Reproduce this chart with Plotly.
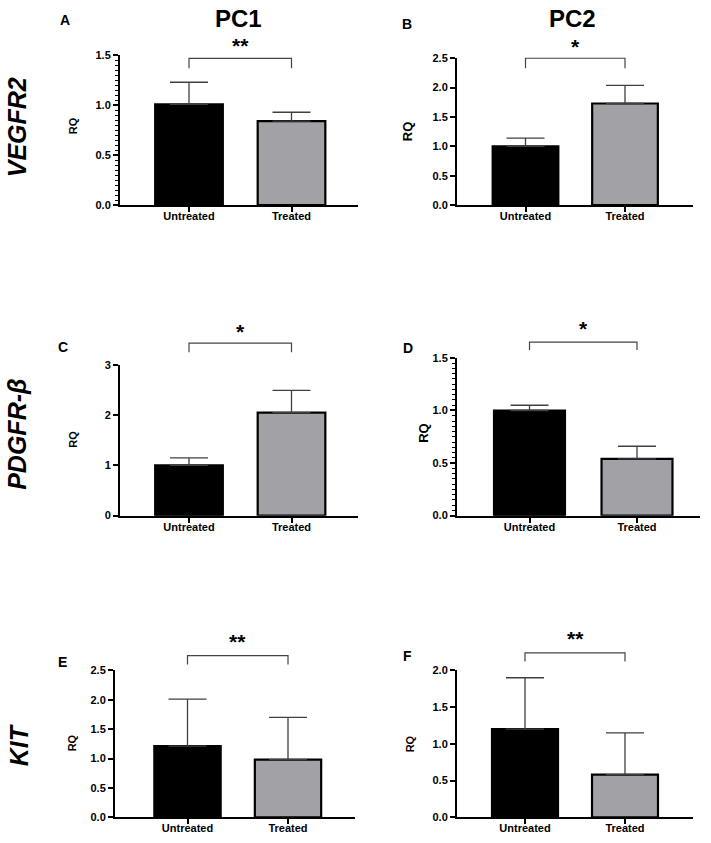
import plotly.graph_objects as go

W, H = 711, 843

categories = ["Untreated", "Treated"]
panels = ["A", "B", "C", "D", "E", "F"]
columns = ["PC1", "PC2"]
genes = ["VEGFR2", "PDGFR-β", "KIT"]

rq_mean = {
    "A": [1.01, 0.84],
    "B": [1.00, 1.73],
    "C": [1.00, 2.05],
    "D": [1.00, 0.54],
    "E": [1.21, 0.98],
    "F": [1.20, 0.58],
}
rq_err = {
    "A": [0.22, 0.09],
    "B": [0.14, 0.31],
    "C": [0.15, 0.44],
    "D": [0.05, 0.12],
    "E": [0.80, 0.72],
    "F": [0.70, 0.57],
}
significance = {"A": "**", "B": "*", "C": "*", "D": "*", "E": "**", "F": "**"}

y_top = {"A": 1.5, "B": 2.5, "C": 3.0, "D": 1.5, "E": 2.5, "F": 2.0}
y_dtick = {"A": 0.5, "B": 0.5, "C": 1.0, "D": 0.5, "E": 0.5, "F": 0.5}
y_tickfmt = {"A": ".1f", "B": ".1f", "C": "d", "D": ".1f", "E": ".1f", "F": ".1f"}
y_minor = {"A": 0.05, "B": None, "C": None, "D": 0.05, "E": None, "F": None}

# layout geometry (pixels): axis left, axis right, y of zero, y of top, bar centres
geom = {
    "A": dict(left=120, right=358, y0=202, yt=50, c0=189, c1=291.5),
    "B": dict(left=457, right=693, y0=202, yt=53, c0=525.5, c1=625),
    "C": dict(left=120, right=358, y0=517, yt=364, c0=189, c1=291.5),
    "D": dict(left=457, right=700, y0=517, yt=357, c0=529.5, c1=637),
    "E": dict(left=115, right=355, y0=823, yt=674, c0=187.5, c1=288),
    "F": dict(left=457, right=693, y0=823, yt=674, c0=525, c1=625),
}
# bracket: level, lower end of the drops, star level (data units)
bracket = {
    "A": (1.47, 1.37, 1.60),
    "B": (2.50, 2.33, 2.70),
    "C": (3.43, 3.25, 3.67),
    "D": (1.65, 1.575, 1.78),
    "E": (2.75, 2.60, 2.99),
    "F": (2.24, 2.12, 2.44),
}
letter_pos = {"A": (65, 14), "B": (407, 18), "C": (63, 346), "D": (408, 347), "E": (62, 665), "F": (407, 659)}
rq_pos = {"A": (73, 122), "B": (407, 127), "C": (73, 440), "D": (424, 433), "E": (72, 748), "F": (410, 749)}
rq_size = {"A": 11, "B": 13, "C": 11, "D": 13, "E": 11, "F": 11}

FONT = "Liberation Sans, Arial, sans-serif"
fig = go.Figure()

for i, p in enumerate(panels):
    g = geom[p]
    n = i + 1
    xa = "x" if n == 1 else f"x{n}"
    ya = "y" if n == 1 else f"y{n}"
    ppu = g["c1"] - g["c0"]
    r0 = -(g["c0"] - g["left"]) / ppu
    r1 = 1 + (g["right"] - g["c1"]) / ppu
    fig.add_trace(go.Bar(
        x=[0, 1], y=rq_mean[p], width=0.66,
        marker=dict(color=["#000000", "#a2a2a6"], line=dict(color="black", width=2.2)),
        error_y=dict(type="data", symmetric=False, array=rq_err[p], arrayminus=[0, 0],
                     color="#404040", thickness=1.3, width=19),
        xaxis=xa, yaxis=ya, showlegend=False, hoverinfo="skip",
    ))
    xkey = "xaxis" if n == 1 else f"xaxis{n}"
    ykey = "yaxis" if n == 1 else f"yaxis{n}"
    minor = dict(dtick=y_minor[p], ticks="outside", ticklen=3, tickwidth=1, tickcolor="black") if y_minor[p] else dict(ticks="")
    fig.update_layout({
        xkey: dict(domain=[g["left"] / W, g["right"] / W], range=[r0, r1], anchor=ya,
                   tickmode="array", tickvals=[0, 1], ticktext=categories,
                   showline=True, linecolor="black", linewidth=2, ticks="outside",
                   ticklen=5, tickwidth=2, tickcolor="black", showgrid=False, zeroline=False,
                   ticklabelstandoff=-5,
                   tickfont=dict(family=FONT, size=11, color="black", weight="bold")),
        ykey: dict(domain=[1 - g["y0"] / H, 1 - g["yt"] / H], range=[0, y_top[p]], anchor=xa,
                   dtick=y_dtick[p], tick0=0, tickformat=y_tickfmt[p],
                   showline=True, linecolor="black", linewidth=2, ticks="outside",
                   ticklen=5, tickwidth=2, tickcolor="black", showgrid=False, zeroline=False,
                   minor=minor,
                   tickfont=dict(family=FONT, size=11, color="black", weight="bold")),
    })
    lvl, low, star = bracket[p]
    yd = ya + " domain"
    top = y_top[p]
    fig.add_shape(type="path", xref=xa, yref=yd,
                  path=f"M 0 {low/top} L 0 {lvl/top} L 1 {lvl/top} L 1 {low/top}",
                  line=dict(color="#444444", width=1.2))
    fig.add_annotation(x=0.5, y=star / top, xref=xa, yref=yd, text=significance[p],
                       showarrow=False, xanchor="center", yanchor="middle",
                       font=dict(family=FONT, size=21, color="black", weight="bold"))
    lx, ly = letter_pos[p]
    fig.add_annotation(x=lx / W, y=1 - ly / H, xref="paper", yref="paper", text=p,
                       showarrow=False, xanchor="center", yanchor="middle",
                       font=dict(family=FONT, size=14, color="black", weight="bold"))
    rx, ry = rq_pos[p]
    fig.add_annotation(x=rx / W, y=1 - ry / H, xref="paper", yref="paper", text="RQ",
                       showarrow=False, xanchor="center", yanchor="middle", textangle=-90,
                       font=dict(family=FONT, size=rq_size[p], color="black", weight="bold"))

col_pos = [(238, 13), (572, 13)]
for t, (cx, cy) in zip(columns, col_pos):
    fig.add_annotation(x=cx / W, y=1 - cy / H, xref="paper", yref="paper", text=t,
                       showarrow=False, xanchor="center", yanchor="middle",
                       font=dict(family=FONT, size=24, color="black", weight="bold"))

gene_pos = [(17, 123), (17, 435), (19, 750)]
for t, (gx, gy) in zip(genes, gene_pos):
    fig.add_annotation(x=gx / W, y=1 - gy / H, xref="paper", yref="paper", text=f"<i>{t}</i>",
                       showarrow=False, xanchor="center", yanchor="middle", textangle=-90,
                       font=dict(family=FONT, size=25, color="black", weight="bold"))

fig.update_layout(width=W, height=H, margin=dict(l=0, r=0, t=0, b=0),
                  paper_bgcolor="white", plot_bgcolor="white", bargap=0.3)
fig.write_html("out.html", config={"displayModeBar": False},
               post_script="document.body.style.margin='0';document.body.style.overflow='hidden';")
